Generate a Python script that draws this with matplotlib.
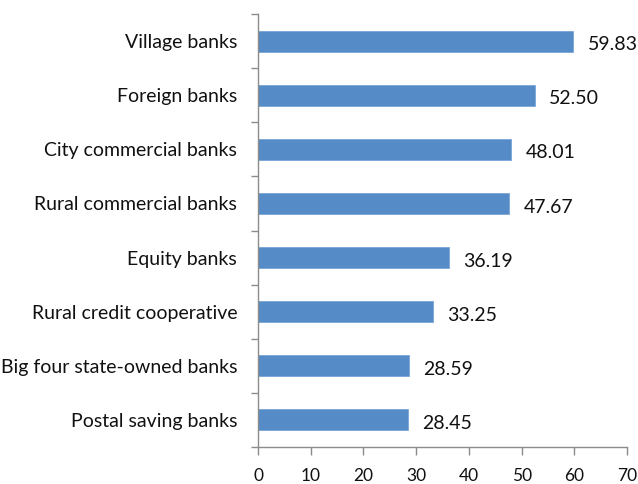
import matplotlib.pyplot as plt
import numpy as np

banks = ['Postal saving banks', 'Big four state-owned banks', 'Rural credit cooperative',
         'Equity banks', 'Rural commercial banks', 'City commercial banks',
         'Foreign banks', 'Village banks']
values = [28.45, 28.59, 33.25, 36.19, 47.67, 48.01, 52.50, 59.83]
xticks = [0, 10, 20, 30, 40, 50, 60, 70]

plt.rcParams['font.family'] = ['Lato', 'DejaVu Sans']
axc = '#8c8c8c'
fs = 14

fig = plt.figure(figsize=(6.38, 4.84), dpi=100)
ax = fig.add_axes([0.4044, 0.0765, 0.5784, 0.8945])

pos = np.arange(len(banks))
ax.barh(pos, values, height=0.39, color='#558bc6', edgecolor='#7aa6d8', linewidth=0.6)
for p, v in zip(pos, values):
    ax.text(v + 2.7, p - 0.04, '%.2f' % v, va='center_baseline', ha='left',
            fontsize=fs, color='#111111')

ax.set_xlim(0, 70)
ax.set_ylim(-0.5, len(banks) - 0.5)
ax.set_xticks(xticks)
ax.set_yticks(pos)
ax.set_yticklabels(banks, va='center_baseline')
# tick marks sit between categories, labels at the centres
ax.set_yticks(np.arange(-0.5, len(banks), 1), minor=True)
ax.tick_params(axis='y', which='major', length=0, pad=15, labelsize=fs, labelcolor='#111111')
ax.tick_params(axis='y', which='minor', length=5, color=axc, width=1)
ax.tick_params(axis='x', length=6, color=axc, width=1, pad=9, labelsize=12.5, labelcolor='#111111')

for s in ['top', 'right']:
    ax.spines[s].set_visible(False)
for s in ['left', 'bottom']:
    ax.spines[s].set_color(axc)
    ax.spines[s].set_linewidth(1)

plt.savefig('out.png', dpi=100)
